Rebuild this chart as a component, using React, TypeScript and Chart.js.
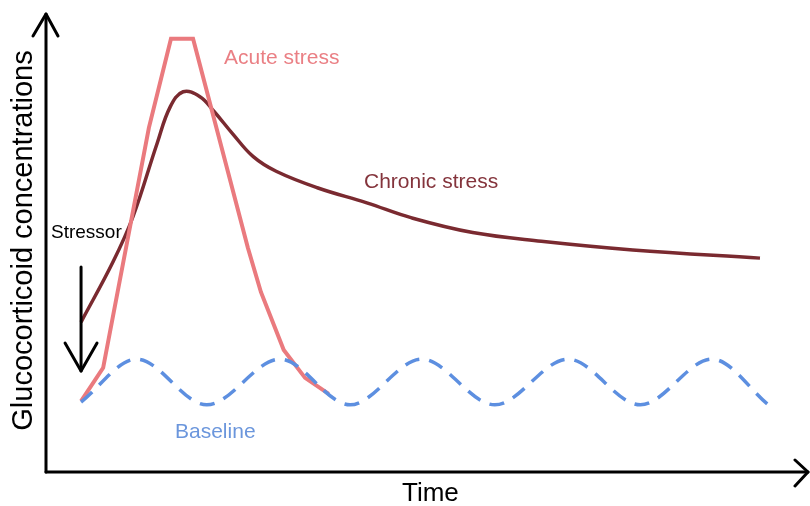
import React, { useEffect, useRef } from "react";
import { Chart, registerables } from "chart.js";

Chart.register(...registerables);

// Time axis units 0..100, concentration units 0..100
const baselineX = [4.6, 11.9, 21.1, 30.7, 39.9, 49.3, 58.9, 68.5, 78.0, 87.4, 94.8];
const baselineY = [15.3, 24.7, 14.7, 24.7, 14.7, 24.7, 14.7, 24.7, 14.7, 24.7, 14.7];

const acuteX = [4.6, 7.5, 13.5, 16.4, 19.3, 26.5, 28.2, 31.2, 34.0, 37.1];
const acuteY = [15.5, 22.8, 75.3, 94.8, 94.8, 49.0, 39.4, 26.7, 20.6, 17.1];

const chronicX = [4.6, 8.8, 11.4, 14.6, 16.3, 18.0, 20.2, 22.0, 24.5, 27.2, 30.2, 35.6, 42.1, 48.0, 56.0, 65.0, 77.0, 93.7];
const chronicY = [32.8, 46.0, 55.8, 72.0, 79.9, 83.2, 82.1, 79.0, 74.0, 69.0, 65.8, 62.2, 58.9, 55.6, 52.4, 50.5, 48.6, 46.8];

const labelAcute = "Acute stress";
const labelChronic = "Chronic stress";
const labelBaseline = "Baseline";
const labelStressor = "Stressor";
const xTitle = "Time";
const yTitle = "Glucocorticoid concentrations";

const FONT = "'Liberation Sans', Arial, Helvetica, sans-serif";

const toPts = (xs: number[], ys: number[]) => xs.map((x, i) => ({ x, y: ys[i] }));

const decorPlugin = {
  id: "decor",
  afterDraw(chart: any) {
    const ctx = chart.ctx as CanvasRenderingContext2D;
    const { left, right, top, bottom } = chart.chartArea;
    const xs = chart.scales.x;
    ctx.save();
    ctx.strokeStyle = "#000";
    ctx.lineWidth = 3;
    ctx.lineCap = "round";
    ctx.lineJoin = "round";
    // y axis
    ctx.beginPath();
    ctx.moveTo(left, bottom);
    ctx.lineTo(left, top - 1);
    ctx.stroke();
    ctx.beginPath();
    ctx.moveTo(left - 13, top + 21);
    ctx.lineTo(left, top - 1);
    ctx.lineTo(left + 12, top + 21);
    ctx.stroke();
    // x axis
    ctx.beginPath();
    ctx.moveTo(left, bottom);
    ctx.lineTo(right, bottom);
    ctx.stroke();
    ctx.beginPath();
    ctx.moveTo(right - 13, bottom - 12);
    ctx.lineTo(right, bottom);
    ctx.lineTo(right - 13, bottom + 14);
    ctx.stroke();
    // stressor arrow
    const ax = xs.getPixelForValue(acuteX[0]);
    ctx.beginPath();
    ctx.moveTo(ax, 267);
    ctx.lineTo(ax, 371);
    ctx.stroke();
    ctx.beginPath();
    ctx.moveTo(ax - 16, 343);
    ctx.lineTo(ax, 371);
    ctx.lineTo(ax + 16, 343);
    ctx.stroke();

    ctx.textBaseline = "middle";
    ctx.textAlign = "left";
    ctx.fillStyle = "#ea7f84";
    ctx.font = `21px ${FONT}`;
    ctx.fillText(labelAcute, 224, 58);
    ctx.fillStyle = "#84343c";
    ctx.fillText(labelChronic, 364, 182);
    ctx.fillStyle = "#6b96dc";
    ctx.fillText(labelBaseline, 175, 432);
    ctx.fillStyle = "#000";
    ctx.font = `19px ${FONT}`;
    ctx.fillText(labelStressor, 51, 233);
    ctx.font = `26px ${FONT}`;
    ctx.fillText(xTitle, 402, 494);
    ctx.save();
    ctx.translate(24, (43 + 438) / 2);
    ctx.rotate(-Math.PI / 2);
    ctx.textAlign = "center";
    ctx.font = `29px ${FONT}`;
    ctx.fillText(yTitle, 0, 0);
    ctx.restore();
    ctx.restore();
  },
};

export default function App() {
  const ref = useRef<HTMLCanvasElement | null>(null);
  useEffect(() => {
    document.body.style.margin = "0";
    const canvas = ref.current!;
    const chart = new Chart(canvas, {
      type: "line",
      data: {
        datasets: [
          {
            label: labelBaseline,
            data: toPts(baselineX, baselineY),
            borderColor: "#5d8fe0",
            borderWidth: 3.5,
            borderDash: [15, 10],
            cubicInterpolationMode: "monotone",
            pointRadius: 0,
            fill: false,
          },
          {
            label: labelAcute,
            data: toPts(acuteX, acuteY),
            borderColor: "#ea7a7e",
            borderWidth: 4,
            tension: 0,
            pointRadius: 0,
            borderJoinStyle: "miter",
            fill: false,
          },
          {
            label: labelChronic,
            data: toPts(chronicX, chronicY),
            borderColor: "#7a2a30",
            borderWidth: 3.5,
            tension: 0.4,
            pointRadius: 0,
            fill: false,
          },
        ],
      },
      options: {
        animation: false,
        responsive: false,
        events: [],
        layout: { padding: { left: 46, right: 2, top: 15, bottom: 34 } },
        plugins: { legend: { display: false }, tooltip: { enabled: false } },
        scales: {
          x: { type: "linear", min: 0, max: 100, display: false },
          y: { type: "linear", min: 0, max: 100, display: false },
        },
      },
      plugins: [decorPlugin],
    } as any);
    return () => chart.destroy();
  }, []);
  return (
    <div style={{ width: 810, height: 506, background: "#fff" }}>
      <canvas ref={ref} width={810} height={506} style={{ display: "block" }} />
    </div>
  );
}
